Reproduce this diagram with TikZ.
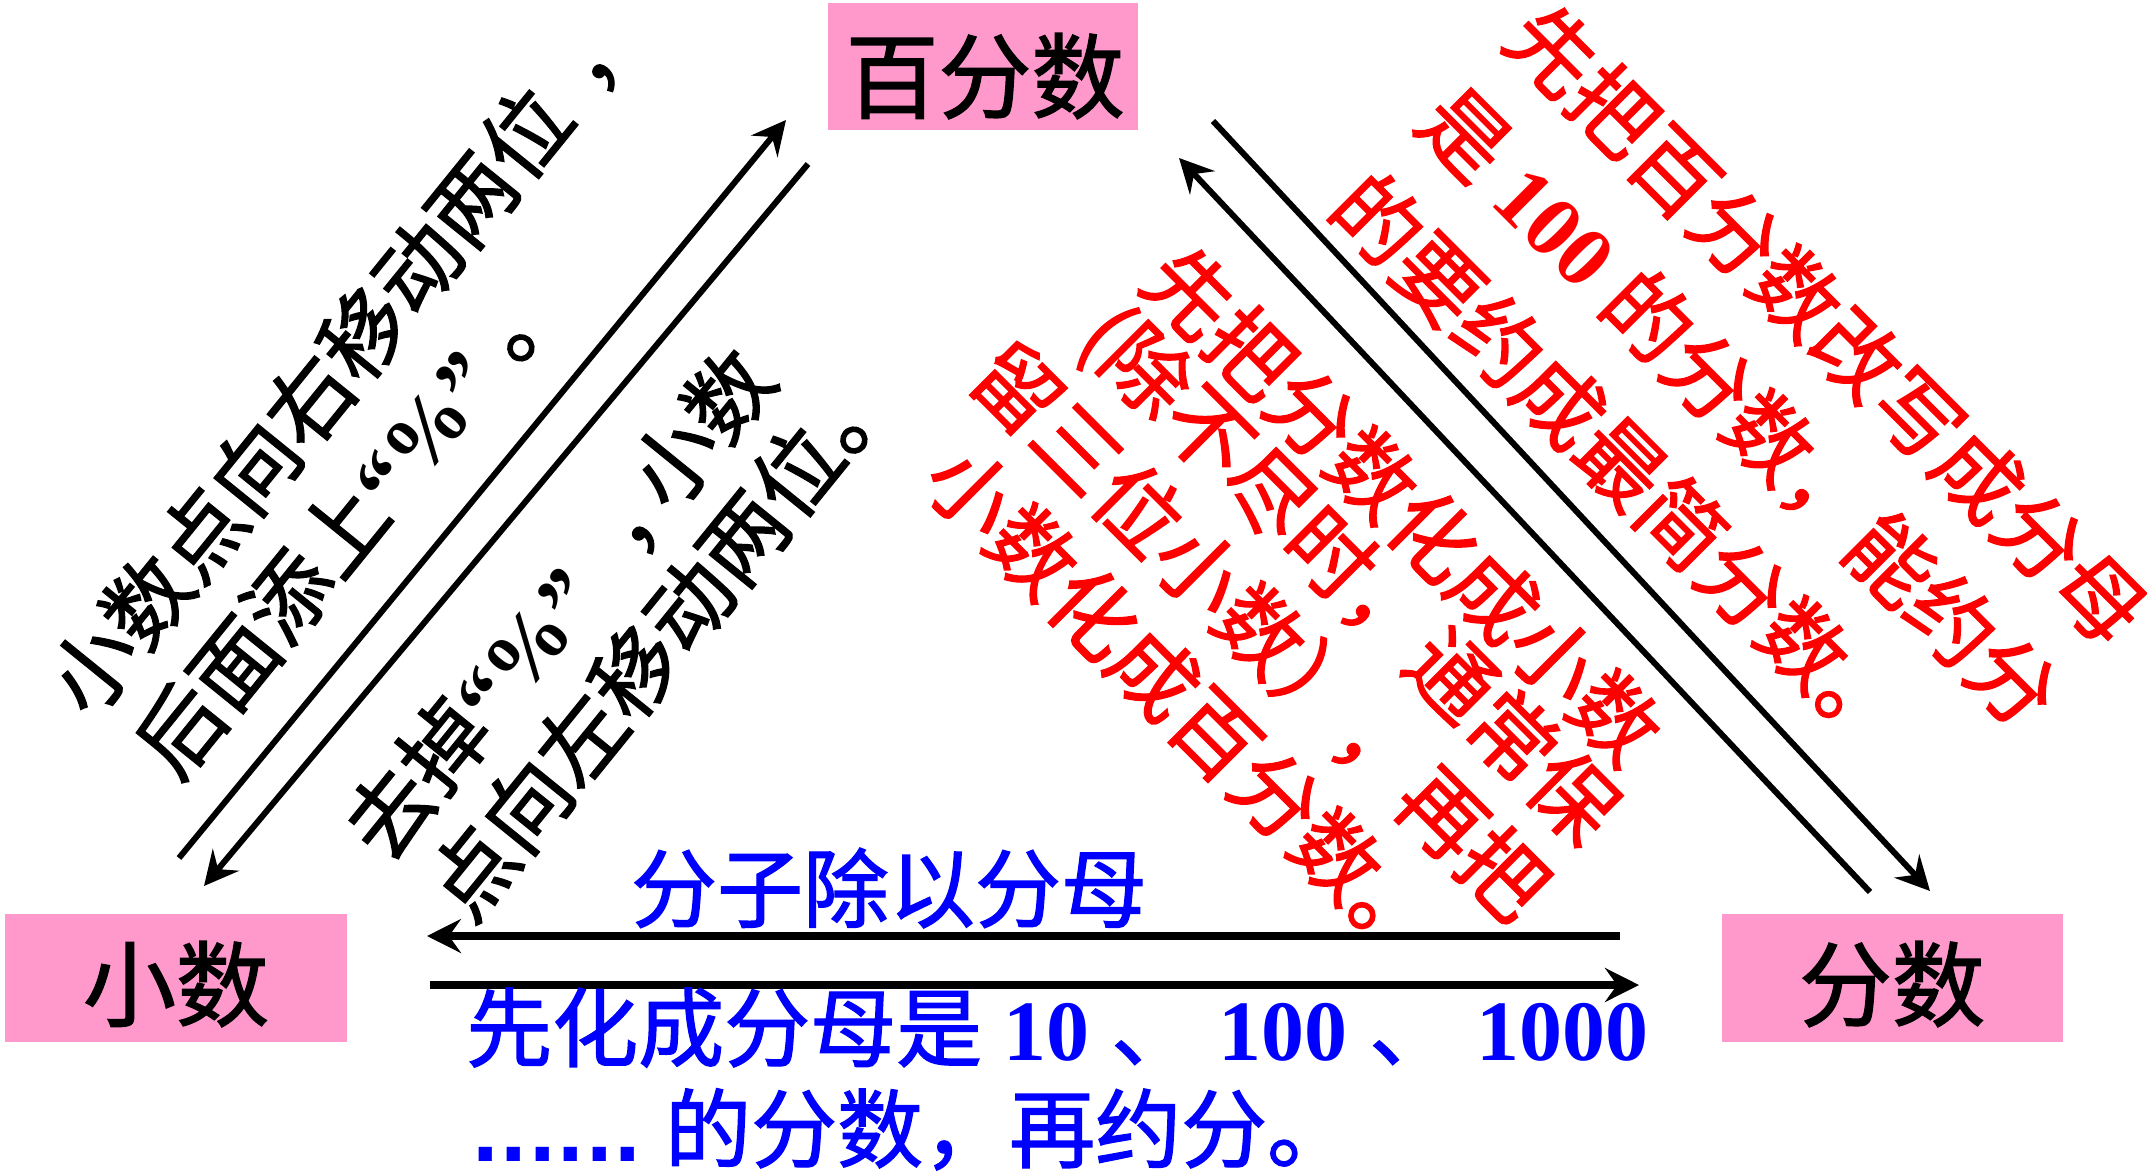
\documentclass[tikz,border=0pt]{standalone}
\usepackage{fontspec}
\usetikzlibrary{arrows.meta}
\setmainfont{Noto Sans CJK SC}[FakeBold=1.5]
\newfontfamily\tnrfont{Liberation Serif}
\newfontfamily\djvfont{DejaVu Sans}
\newcommand\tmsb{\tnrfont\bfseries}
\definecolor{boxpink}{HTML}{FF99CC}
\definecolor{txtred}{HTML}{FF0000}
\definecolor{txtblue}{HTML}{0000FF}
\tikzset{
  pinkbox/.style={fill=boxpink, draw=none, inner sep=0pt},
  boxtxt/.style={font=\fontsize{93}{100}\selectfont, inner sep=0pt, text=black},
  lab/.style={font=\fontsize{86}{100}\selectfont, inner sep=0pt},
  blktxt/.style={lab, rotate=51, anchor=west, text=black},
  redtxt/.style={lab, rotate=-45, anchor=west, text=txtred},
  bluetxt/.style={lab, text=txtblue},
  conn/.style={line width=6pt, -{Stealth[length=34pt,width=34pt,inset=12pt]}},
  hconn/.style={conn, line width=8.5pt}
}
\begin{document}
\begin{tikzpicture}[x=1pt,y=-1pt]
\useasboundingbox (0,0) rectangle (2147,1173);
% boxes
\node[pinkbox, minimum width=310pt, minimum height=127pt] (pct) at (983,66.5) {};
\node[pinkbox, minimum width=342pt, minimum height=128pt] (dec) at (176,978) {};
\node[pinkbox, minimum width=341pt, minimum height=128pt] (frac) at (1892.5,978) {};
\node[boxtxt] (pctT) at (985,76) {百分数};
\node[boxtxt] (decT) at (176,984) {小数};
\node[boxtxt] (fracT) at (1892,984) {分数};
% connector ends
\coordinate (a1s) at (179,858);  \coordinate (a1e) at (786,120);
\coordinate (a2s) at (808,164);  \coordinate (a2e) at (204,886);
\coordinate (a3s) at (1213,121); \coordinate (a3e) at (1930,891);
\coordinate (a4s) at (1870,892); \coordinate (a4e) at (1179,158);
\coordinate (a5s) at (1620,936); \coordinate (a5e) at (427,936);
\coordinate (a6s) at (430,985);  \coordinate (a6e) at (1639,985);
\draw[conn] (a1s) -- (a1e);
\draw[conn] (a2s) -- (a2e);
\draw[conn] (a3s) -- (a3e);
\draw[conn] (a4s) -- (a4e);
\draw[hconn] (a5s) -- (a5e);
\draw[hconn] (a6s) -- (a6e);
% black rotated texts
\node[blktxt] (bl1) at (66,701.4) {小数点向右移动两位\kern0.35em，};
\node[blktxt] (bl2) at (153,763.4) {后面添上{\tmsb “\%”\ }。};
\node[blktxt] (bl3) at (363,846.4) {去掉{\tmsb “\%”}\kern0.6em，\kern-0.35em 小数};
\node[blktxt] (bl4) at (445,905.4) {点向左移动两位。};
% red rotated texts
\node[redtxt] (r1) at (1522.6,19.6) {先把百分数改写成分母};
\node[redtxt] (r2) at (1434.6,103.6) {是{\tmsb\ 100 }的分数，能约分};
\node[redtxt] (r3) at (1347.6,188.6) {的要约成最简分数。};
\node[redtxt] (r4) at (1159.6,261.6) {先把分数化成小数};
\node[redtxt] (r5) at (1094,323) {(除不尽时，通常保};
\node[redtxt] (r6) at (986.6,357.1) {留三位小数），再把};
\node[redtxt] (r7) at (941.6,460.6) {小数化成百分数。};
% blue texts
\node[bluetxt] (b1) at (889,888) {分子除以分母};
\node[bluetxt, anchor=base west] (b2) at (466,1060) {先化成分母是{\tmsb\ 10 }、{\tmsb\ 100 }、{\tmsb\ 1000}};
\node[bluetxt, anchor=base west] (b3) at (471,1161) {{\djvfont\bfseries\fontsize{75}{75}\selectfont ......}\kern23pt 的分数，再约分。};
\end{tikzpicture}
\end{document}
